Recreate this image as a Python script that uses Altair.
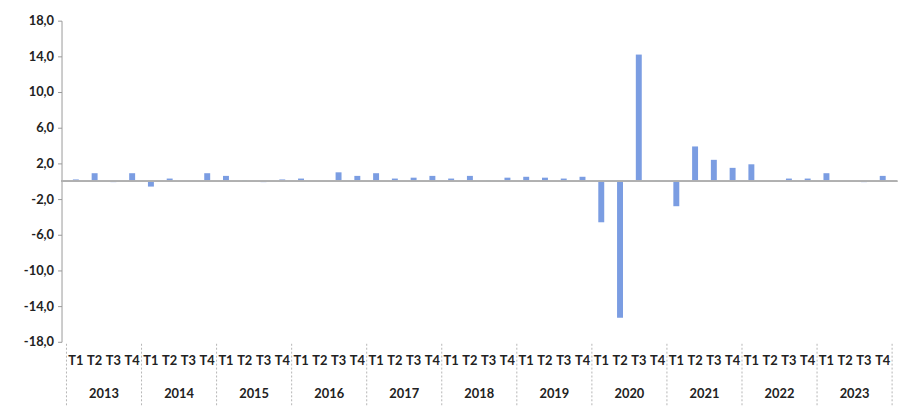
import altair as alt
import pandas as pd

years = [str(y) for y in range(2013, 2024)]
quarters = ["T1", "T2", "T3", "T4"]
values = [
    0.2, 0.9, -0.1, 0.9,     # 2013
    -0.6, 0.3, 0.0, 0.9,     # 2014
    0.6, 0.1, -0.1, 0.2,     # 2015
    0.3, 0.0, 1.0, 0.6,      # 2016
    0.9, 0.3, 0.4, 0.6,      # 2017
    0.3, 0.6, 0.1, 0.4,      # 2018
    0.5, 0.4, 0.3, 0.5,      # 2019
    -4.6, -15.3, 14.2, 0.1,  # 2020
    -2.8, 3.9, 2.4, 1.5,     # 2021
    1.9, 0.0, 0.3, 0.3,      # 2022
    0.9, 0.0, -0.1, 0.6,     # 2023
]
y_ticks = [-18, -14, -10, -6, -2, 2, 6, 10, 14, 18]

W, H = 843, 324
FONT = "Lato"
BAR = "#7b9de2"

rows = []
for i, v in enumerate(values):
    rows.append({"pos": i + 0.5, "q": quarters[i % 4], "year": years[i // 4], "value": v})
df = pd.DataFrame(rows)
df_years = pd.DataFrame({"pos": [4 * k + 2 for k in range(len(years))], "year": years})
df_sep = pd.DataFrame({"pos": [4 * k for k in range(len(years) + 1)]})

xs = alt.Scale(domain=[0, 4 * len(years)], nice=False, zero=False)
ys = alt.Scale(domain=[-18, 18], nice=False)

label_expr = "(datum.value < 0 ? '-' : '') + replace(format(abs(datum.value), '.1f'), '.', ',')"

yaxis = alt.Axis(
    values=y_ticks, labelExpr=label_expr, grid=False, title=None,
    labelOverlap=False, labelBound=False, labelFlush=False,
    domainColor="#999999", tickColor="#999999", tickSize=4,
    labelFont=FONT, labelFontWeight="bold", labelFontSize=13,
    labelColor="#222222", labelPadding=4)

bars = alt.Chart(df).mark_bar(size=6, color=BAR).encode(
    x=alt.X("pos:Q", scale=xs, axis=None),
    y=alt.Y("value:Q", scale=ys, axis=yaxis),
    y2=alt.datum(0),
)

zero = alt.Chart(df).mark_rule(color="#b0b0b0", strokeWidth=1).encode(
    y=alt.Y(datum=0, scale=ys, axis=yaxis), x=alt.value(0), x2=alt.value(W)
)

qlabels = alt.Chart(df).mark_text(
    font=FONT, fontWeight="bold", fontSize=13, color="#222222", baseline="middle"
).encode(x=alt.X("pos:Q", scale=xs, axis=None), y=alt.value(H + 19), text="q:N")

ylabels = alt.Chart(df_years).mark_text(
    font=FONT, fontWeight="bold", fontSize=13, color="#222222", baseline="middle"
).encode(x=alt.X("pos:Q", scale=xs, axis=None), y=alt.value(H + 53), text="year:N")

seps = alt.Chart(df_sep).mark_rule(color="#b5b5b5", strokeDash=[2, 2]).encode(
    x=alt.X("pos:Q", scale=xs, axis=None), y=alt.value(H + 2), y2=alt.value(H + 66)
)

chart = alt.layer(bars, zero, seps, qlabels, ylabels).properties(
    width=W, height=H,
    background="white",
    autosize=alt.AutoSizeParams(type="none"),
    padding={"left": 54, "top": 11, "right": 7, "bottom": 65},
).configure_view(stroke=None).configure_axis(labelOverlap=False)

chart.save("out.html", embed_options={"renderer": "svg", "actions": False})
